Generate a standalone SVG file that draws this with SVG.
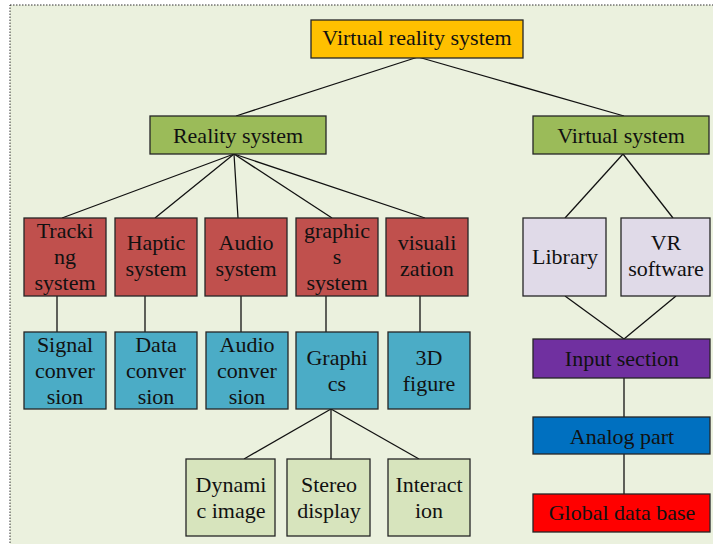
<svg xmlns="http://www.w3.org/2000/svg" width="713" height="544" viewBox="0 0 713 544">
<style>
.b{stroke:#262626;stroke-width:1.3}
.t{font-family:'Liberation Serif','Times New Roman',serif;font-size:22px;fill:#111;text-anchor:middle}
.c line{stroke:#111;stroke-width:1.3}
</style>
<rect x="10" y="5" width="720" height="560" fill="#EBF1DE" stroke="#333" stroke-width="1" stroke-dasharray="1.5 1.5"/>
<g class="c" id="connectors">
<line x1="418" y1="57" x2="236" y2="116"/>
<line x1="418" y1="57" x2="624" y2="116"/>
<line x1="234" y1="154" x2="62" y2="218"/>
<line x1="234" y1="154" x2="155" y2="218"/>
<line x1="234" y1="154" x2="238" y2="218"/>
<line x1="234" y1="154" x2="332" y2="218"/>
<line x1="234" y1="154" x2="425" y2="218"/>
<line x1="57" y1="296" x2="57" y2="332"/>
<line x1="145" y1="296" x2="145" y2="332"/>
<line x1="241" y1="296" x2="241" y2="332"/>
<line x1="326" y1="296" x2="326" y2="332"/>
<line x1="420" y1="296" x2="420" y2="332"/>
<line x1="331" y1="409" x2="244" y2="459"/>
<line x1="331" y1="409" x2="331" y2="459"/>
<line x1="331" y1="409" x2="419" y2="459"/>
<line x1="623" y1="154" x2="565" y2="218"/>
<line x1="623" y1="154" x2="673" y2="218"/>
<line x1="565" y1="296" x2="624" y2="339"/>
<line x1="676" y1="296" x2="624" y2="339"/>
<line x1="624" y1="378" x2="624" y2="417"/>
<line x1="624" y1="454" x2="624" y2="494"/>
</g>
<g id="n-vrs"><rect class="b" x="311" y="20" width="212" height="38" fill="#FFC000"/><text class="t" x="417" y="45">Virtual reality system</text></g>
<g id="n-reality"><rect class="b" x="150" y="116" width="176" height="38" fill="#9BBB59"/><text class="t" x="238" y="143">Reality system</text></g>
<g id="n-virtual"><rect class="b" x="533" y="116" width="176" height="38" fill="#9BBB59"/><text class="t" x="621" y="143">Virtual system</text></g>
<g id="n-tracking"><rect class="b" x="24" y="218" width="82" height="78" fill="#C0504D"/><text class="t" x="65" y="238">Tracki</text><text class="t" x="65" y="264">ng</text><text class="t" x="65" y="290">system</text></g>
<g id="n-haptic"><rect class="b" x="115" y="218" width="82" height="78" fill="#C0504D"/><text class="t" x="156" y="250">Haptic</text><text class="t" x="156" y="276">system</text></g>
<g id="n-audio"><rect class="b" x="205" y="218" width="82" height="78" fill="#C0504D"/><text class="t" x="246" y="250">Audio</text><text class="t" x="246" y="276">system</text></g>
<g id="n-graphics"><rect class="b" x="296" y="218" width="82" height="78" fill="#C0504D"/><text class="t" x="337" y="238">graphic</text><text class="t" x="337" y="264">s</text><text class="t" x="337" y="290">system</text></g>
<g id="n-visual"><rect class="b" x="386" y="218" width="82" height="78" fill="#C0504D"/><text class="t" x="427" y="250">visuali</text><text class="t" x="427" y="276">zation</text></g>
<g id="n-signal"><rect class="b" x="24" y="332" width="82" height="77" fill="#4BACC6"/><text class="t" x="65" y="352">Signal</text><text class="t" x="65" y="378">conver</text><text class="t" x="65" y="404">sion</text></g>
<g id="n-data"><rect class="b" x="115" y="332" width="82" height="77" fill="#4BACC6"/><text class="t" x="156" y="352">Data</text><text class="t" x="156" y="378">conver</text><text class="t" x="156" y="404">sion</text></g>
<g id="n-audioconv"><rect class="b" x="206" y="332" width="82" height="77" fill="#4BACC6"/><text class="t" x="247" y="352">Audio</text><text class="t" x="247" y="378">conver</text><text class="t" x="247" y="404">sion</text></g>
<g id="n-graphicsb"><rect class="b" x="296" y="332" width="82" height="77" fill="#4BACC6"/><text class="t" x="337" y="365">Graphi</text><text class="t" x="337" y="391">cs</text></g>
<g id="n-3d"><rect class="b" x="388" y="332" width="82" height="77" fill="#4BACC6"/><text class="t" x="429" y="365">3D</text><text class="t" x="429" y="391">figure</text></g>
<g id="n-dynamic"><rect class="b" x="186" y="459" width="89" height="77" fill="#D7E4BD"/><text class="t" x="231" y="492">Dynami</text><text class="t" x="231" y="518">c image</text></g>
<g id="n-stereo"><rect class="b" x="287" y="459" width="83" height="77" fill="#D7E4BD"/><text class="t" x="329" y="492">Stereo</text><text class="t" x="329" y="518">display</text></g>
<g id="n-interaction"><rect class="b" x="388" y="459" width="82" height="77" fill="#D7E4BD"/><text class="t" x="429" y="492">Interact</text><text class="t" x="429" y="518">ion</text></g>
<g id="n-library"><rect class="b" x="523" y="218" width="83" height="78" fill="#E0DAE8"/><text class="t" x="565" y="264">Library</text></g>
<g id="n-vrsoft"><rect class="b" x="621" y="218" width="89" height="78" fill="#E0DAE8"/><text class="t" x="666" y="250">VR</text><text class="t" x="666" y="276">software</text></g>
<g id="n-input"><rect class="b" x="533" y="339" width="177" height="39" fill="#7030A0"/><text class="t" x="622" y="366">Input section</text></g>
<g id="n-analog"><rect class="b" x="533" y="417" width="177" height="37" fill="#0070C0"/><text class="t" x="622" y="444">Analog part</text></g>
<g id="n-global"><rect class="b" x="533" y="494" width="177" height="38" fill="#FF0000"/><text class="t" x="622" y="520">Global data base</text></g>
</svg>
